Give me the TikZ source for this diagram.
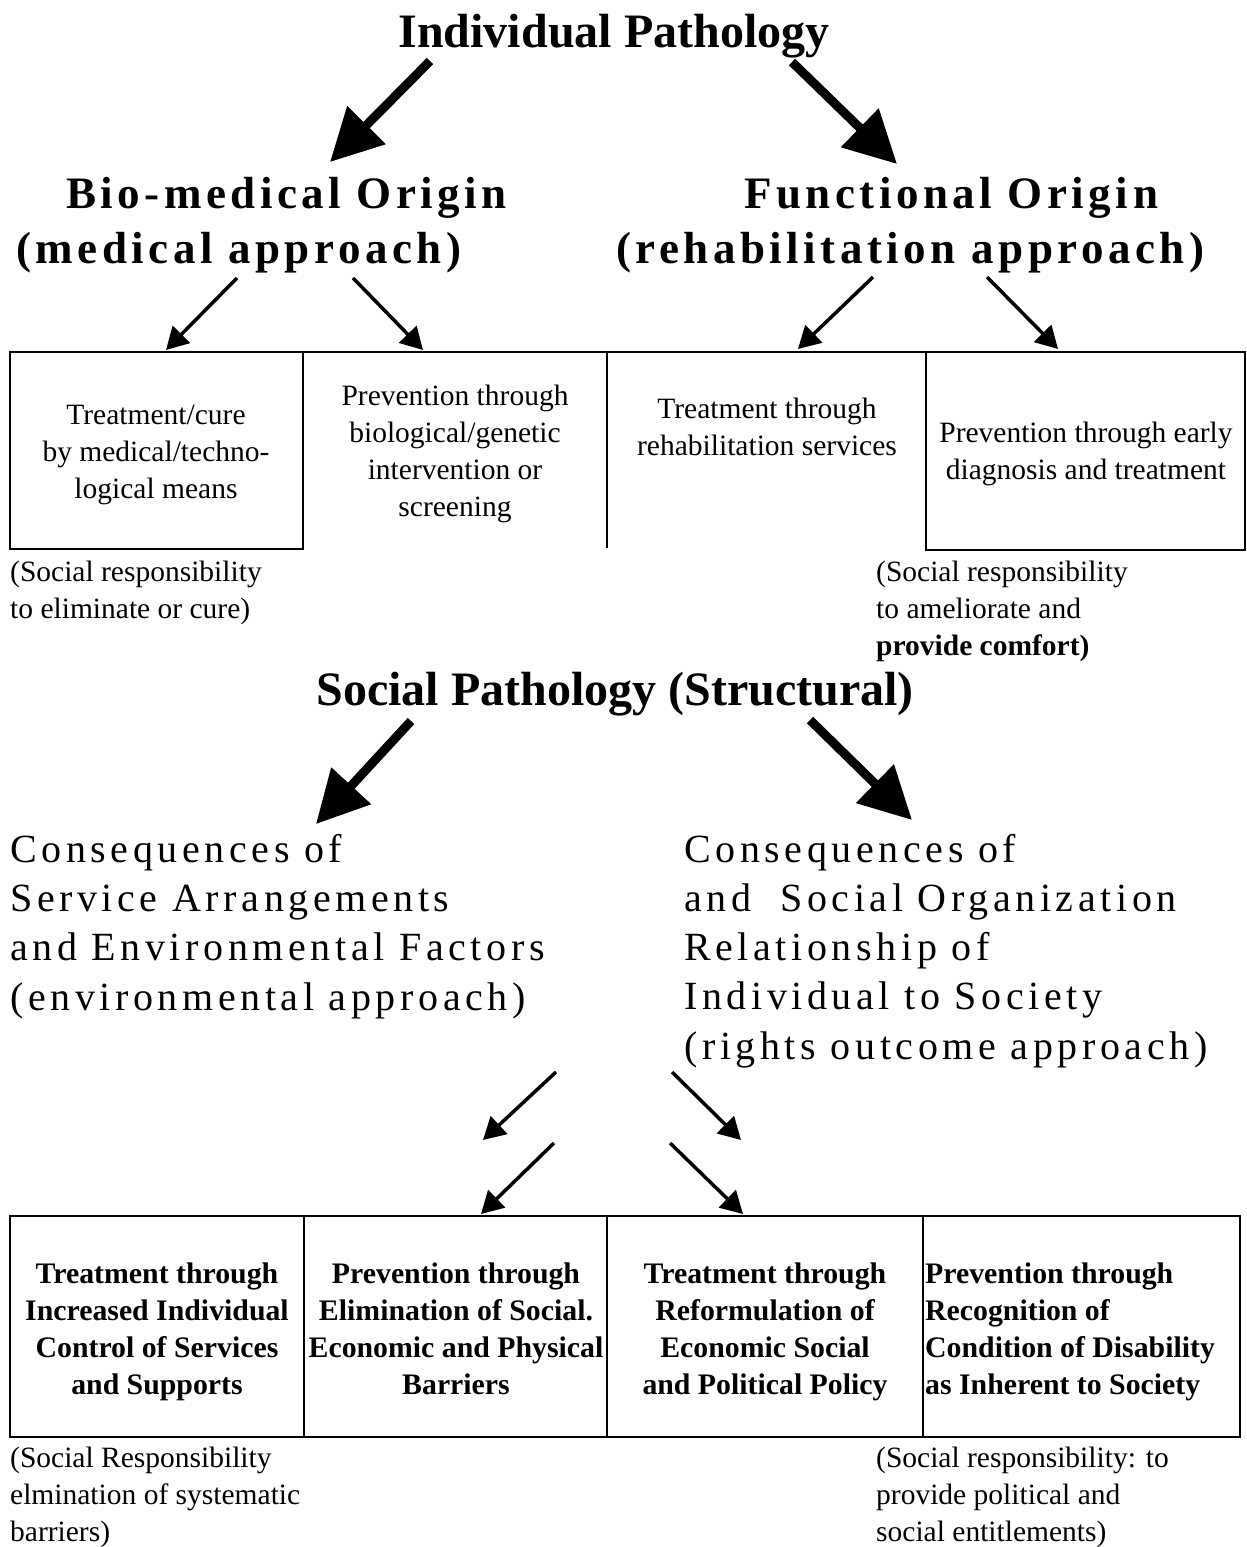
\documentclass[tikz,border=0pt]{standalone}
\usepackage{fontspec}
\setmainfont{Liberation Serif}
\newfontfamily\spaced[LetterSpace=10]{Liberation Serif}
\newfontfamily\spread[LetterSpace=11.5]{Liberation Serif}
\usetikzlibrary{arrows.meta}

\begin{document}
\begin{tikzpicture}[x=1pt, y=-1pt,
  title/.style={font=\fontsize{48}{56}\selectfont\bfseries, anchor=base, inner sep=0},
  origin/.style={font=\spaced\fontsize{45}{52}\selectfont\bfseries, anchor=base west, inner sep=0},
  conseq/.style={font=\spread\fontsize{40}{49.2}\selectfont, anchor=base west, align=left, inner sep=0},
  boxtext/.style={font=\fontsize{29.5}{36.7}\selectfont, align=center, anchor=base, inner sep=0},
  boldtext/.style={font=\fontsize{29.8}{36.7}\selectfont\bfseries, align=center, anchor=base, inner sep=0},
  note/.style={font=\fontsize{29.5}{36.7}\selectfont, align=left, anchor=base west, inner sep=0},
  frame/.style={line width=2.5pt},
  bigarrow/.style={line width=9pt, -{Triangle[length=52pt, width=52pt]}},
  smallarrow/.style={line width=3.5pt, -{Triangle[length=22pt, width=24pt]}}]
\useasboundingbox (0,0) rectangle (1247,1547);

\node[title] (indiv) at (614,47) {Individual Pathology};
\node[origin] (bio) at (66,208) {Bio-medical Origin};
\node[origin] (bioapp) at (16,263) {(medical approach)};
\node[origin] (func) at (744,208) {Functional Origin};
\node[origin] (funcapp) at (616,263) {(rehabilitation approach)};

\coordinate (i1) at (430,61);
\coordinate (i2) at (792,62);
\coordinate (b0) at (330,162);
\coordinate (f0) at (897,164);
\draw[bigarrow] (i1) -- (b0);
\draw[bigarrow] (i2) -- (f0);

\coordinate (b1) at (237,278);
\coordinate (b2) at (353,278);
\coordinate (f1) at (873,277);
\coordinate (f2) at (987,277);
\coordinate (t1) at (166,350);
\coordinate (t2) at (423,350);
\coordinate (t3) at (798,349);
\coordinate (t4) at (1058,349);
\draw[smallarrow] (b1) -- (t1);
\draw[smallarrow] (b2) -- (t2);
\draw[smallarrow] (f1) -- (t3);
\draw[smallarrow] (f2) -- (t4);

\draw[frame] (10,352) -- (1245,352);
\draw[frame] (10,352) rectangle (303,549);
\draw[frame] (607,352) -- (607,548);
\draw[frame] (926,352) rectangle (1245,550);

% multi-line nodes sit on their last baseline
\node[boxtext] (cure) at (156,498) {Treatment/cure\\by medical/techno-\\logical means};
\node[boxtext] (genetic) at (455,516) {Prevention through\\biological/genetic\\intervention or\\screening};
\node[boxtext] (rehab) at (767,455) {Treatment through\\rehabilitation services};
\node[boxtext] (early) at (1086,479) {Prevention through early\\diagnosis and treatment};

\node[note] (cureres) at (10,618) {(Social responsibility\\to eliminate or cure)};
\node[note] (comfort) at (876,655) {(Social responsibility\\to ameliorate and\\\textbf{provide comfort)}};

\node[title] (social) at (615,705) {Social Pathology (Structural)};

\coordinate (s1) at (411,721);
\coordinate (s2) at (810,720);
\coordinate (e0) at (316,824);
\coordinate (r0) at (912,820);
\draw[bigarrow] (s1) -- (e0);
\draw[bigarrow] (s2) -- (r0);

\node[conseq] (env) at (10,1010) {Consequences of\\Service Arrangements\\and Environmental Factors\\(environmental approach)};
\node[conseq] (rights) at (684,1059) {Consequences of\\and~ Social Organization\\Relationship of\\Individual to Society\\(rights outcome approach)};

\coordinate (c1) at (556,1072);
\coordinate (c2) at (672,1072);
\coordinate (c3) at (554,1143);
\coordinate (c4) at (670,1143);
\coordinate (d1) at (483,1140);
\coordinate (d2) at (741,1140);
\coordinate (d3) at (481,1214);
\coordinate (d4) at (743,1214);
\draw[smallarrow] (c1) -- (d1);
\draw[smallarrow] (c2) -- (d2);
\draw[smallarrow] (c3) -- (d3);
\draw[smallarrow] (c4) -- (d4);

\draw[frame] (10,1216) rectangle (1240,1437);
\draw[frame] (304,1216) -- (304,1437);
\draw[line width=1.8pt] (607,1216) -- (607,1437);
\draw[frame] (923,1216) -- (923,1437);

\node[boldtext] (control) at (157,1394) {Treatment through\\Increased Individual\\Control of Services\\and Supports};
\node[boldtext] (barriers) at (456,1394) {Prevention through\\Elimination of Social.\\Economic and Physical\\Barriers};
\node[boldtext] (policy) at (765,1394) {Treatment through\\Reformulation of\\Economic Social\\and Political Policy};
\node[boldtext, align=left, anchor=base west] (inherent) at (925,1394) {Prevention through\\Recognition of\\Condition of Disability\\as Inherent to Society};

\node[note] (sysres) at (10,1541) {(Social Responsibility\\elmination of systematic\\barriers)};
\node[note] (entitle) at (876,1541) {(Social responsibility: to\\provide political and\\social entitlements)};
\end{tikzpicture}
\end{document}
